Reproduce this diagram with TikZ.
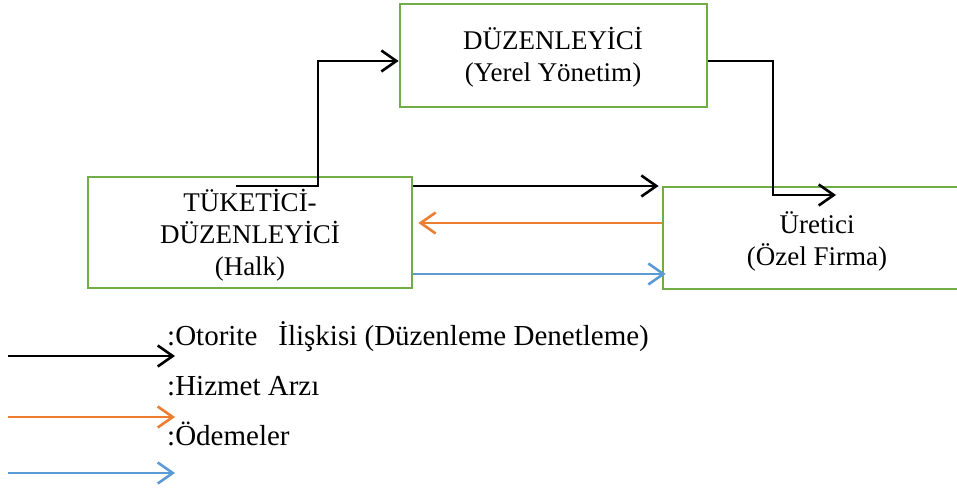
\documentclass[tikz,border=0pt]{standalone}
\usepackage{fontspec}
\setmainfont{Liberation Serif}
\usetikzlibrary{arrows.meta}
\definecolor{boxgreen}{HTML}{70AD47}
\definecolor{arrorange}{HTML}{ED7D31}
\definecolor{arrblue}{HTML}{5B9BD5}
\tikzset{
  box/.style={draw=boxgreen, line width=2.8pt, fill=white, inner sep=0pt},
  lbl/.style={inner sep=0pt, align=center, font=\fontsize{27}{32}\selectfont},
  legtxt/.style={inner sep=0pt, anchor=base west, font=\fontsize{29}{32}\selectfont},
  barb/.style={-{Straight Barb[length=15pt,width=21pt,line width=2.6pt]}},
  blk/.style={barb, draw=black, line width=2.9pt},
  org/.style={barb, draw=arrorange, line width=2.5pt},
  blu/.style={barb, draw=arrblue, line width=2.5pt}
}
\begin{document}
\begin{tikzpicture}[x=1pt,y=-1pt]
\useasboundingbox (0,0) rectangle (957,489);
% boxes
\node[box, minimum width=307pt, minimum height=103pt] (top) at (553.5,55.5) {};
\node[box, minimum width=324pt, minimum height=111pt] (lft) at (250,232.5) {};
\node[box, minimum width=308pt, minimum height=102pt] (rgt) at (817,238) {};
% box texts (anchor = baseline of the last line)
\node[lbl, anchor=base] (toptxt) at (553,82) {DÜZENLEYİCİ\\(Yerel Yönetim)};
\node[lbl, anchor=base] (lfttxt) at (250,275) {TÜKETİCİ-\\DÜZENLEYİCİ\\(Halk)};
\node[lbl, anchor=base] (rgttxt) at (817,265) {Üretici\\(Özel Firma)};
% helper coordinates
\coordinate (s1) at (236,186);
\coordinate (k1) at (318,61);
\coordinate (k2) at (773,61);
\coordinate (e2) at (836,195);
\coordinate (y1) at (0,186);
\coordinate (y2) at (0,223);
\coordinate (y3) at (0,274);
% connectors
\draw[blk, line join=miter] (s1) -| (k1) -- (top.west |- k1);
\draw[blk, line join=miter] (top.east |- k2) -- (k2) |- (e2);
\draw[blk, shorten >=3pt] (lft.east |- y1) -- (rgt.west |- y1);
\draw[org, shorten >=5pt] (rgt.west |- y2) -- (lft.east |- y2);
\draw[blu, shorten >=-4pt] (lft.east |- y3) -- (rgt.west |- y3);
% legend
\coordinate (l1a) at (8,356);  \coordinate (l1b) at (175,356);
\coordinate (l2a) at (8,417);  \coordinate (l2b) at (175,417);
\coordinate (l3a) at (8,473);  \coordinate (l3b) at (175,473);
\draw[blk] (l1a) -- (l1b);
\draw[org] (l2a) -- (l2b);
\draw[blu] (l3a) -- (l3b);
\node[legtxt] (leg1) at (167,345) {:Otorite\hspace{21pt}İlişkisi (Düzenleme Denetleme)};
\node[legtxt] (leg2) at (167,395) {:Hizmet Arzı};
\node[legtxt] (leg3) at (167,445) {:Ödemeler};
\end{tikzpicture}
\end{document}
